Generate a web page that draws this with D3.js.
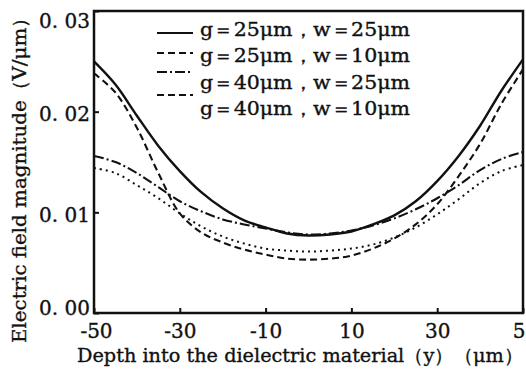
<html>
<head>
<script src="https://d3js.org/d3.v7.min.js"></script>
<style>
  body { margin:0; background:#fff; }
  text { font-family: "DejaVu Serif", "Liberation Serif", serif; fill:#111; stroke:#111; stroke-width:0.35px; }
</style>
</head>
<body>
<svg id="chart" width="526" height="373"></svg>
<script>
// depth positions (um) and field magnitude (V/um)
var depth   = [-50,-45,-40,-35,-30,-25,-20,-15,-10,-5,0,5,10,15,20,25,30,35,40,45,50];
var g25w25  = [.0250,.0227,.0196,.0166,.0141,.0120,.0104,.0092,.0085,.0079,.0077,.0078,.0081,.0088,.0097,.0111,.0131,.0156,.0186,.0221,.0252];
var g25w10  = [.0238,.0219,.0184,.0139,.0099,.0080,.0070,.0063,.0058,.0054,.0053,.0054,.0057,.0064,.0074,.0088,.0108,.0136,.0168,.0208,.0242];
var g40w25  = [.0156,.0150,.0139,.0125,.0111,.0101,.0093,.0088,.0084,.0080,.0078,.0079,.0082,.0087,.0094,.0103,.0114,.0127,.0142,.0153,.0160];
var g40w10  = [.0144,.0139,.0127,.0114,.0099,.0086,.0076,.0069,.0064,.0062,.0061,.0062,.0064,.0068,.0075,.0085,.0098,.0113,.0129,.0141,.0147];
var legendLabels = ["g＝25μm，w＝25μm","g＝25μm，w＝10μm","g＝40μm，w＝25μm","g＝40μm，w＝10μm"];
var xTicks = [-50,-30,-10,10,30,50];
var yTicks = [0,0.01,0.02,0.03];

var svg = d3.select("#chart");
var pl = 94, pr = 523, pt = 11, pb = 313;

var x = d3.scaleLinear().domain([-50,50]).range([pl,pr]);
var y = d3.scaleLinear().domain([0,0.03]).range([pb,pt]);

var series = [
  {vals:g25w25, dash:null,        w:2.4},
  {vals:g25w10, dash:"7,4",       w:2.1},
  {vals:g40w25, dash:"10,3,2,3",  w:2.1},
  {vals:g40w10, dash:"2,4",       w:2}
];
// the legend sample of the last row is drawn dashed in the original figure
var legendDash = [null,"7,4","10,3,2,3","7,4"];

var line = d3.line()
  .x(function(d){ return x(d[0]); })
  .y(function(d){ return y(d[1]); })
  .curve(d3.curveCatmullRom);

series.forEach(function(s){
  svg.append("path")
    .attr("d", line(depth.map(function(v,i){ return [v, s.vals[i]]; })))
    .attr("fill","none")
    .attr("stroke","#111")
    .attr("stroke-width", s.w)
    .attr("stroke-dasharray", s.dash);
});

// axes with inward ticks
var xAxis = svg.append("g").attr("transform","translate(0,"+pb+")")
  .call(d3.axisBottom(x).tickValues(xTicks).tickSize(-5).tickPadding(10).tickFormat(function(d){ return String(d); }));
var yAxis = svg.append("g").attr("transform","translate("+pl+",0)")
  .call(d3.axisLeft(y).tickValues(yTicks).tickSize(-5).tickPadding(4)
    .tickFormat(function(d){ return d.toFixed(2).replace(".", ". "); }));

[xAxis, yAxis].forEach(function(a){
  a.select(".domain").remove();
  a.selectAll(".tick line").attr("stroke","#111").attr("stroke-width",2);
  a.selectAll(".tick text").style("font-size","20px").attr("fill","#111");
});
xAxis.selectAll(".tick text").attr("dy","0.75em");
xAxis.selectAll(".tick").filter(function(d){ return d === -50 || d === 50; })
  .select("text").attr("dx", "2px");
yAxis.selectAll(".tick text").attr("dy", function(d){
  return d === 0.03 ? "0.8em" : d === 0 ? "0.05em" : "0.45em";
});

// frame
svg.append("rect")
  .attr("x",pl).attr("y",pt)
  .attr("width",pr-pl).attr("height",pb-pt)
  .attr("fill","none").attr("stroke","#111").attr("stroke-width",2.5);

// legend
var legendLineY = [33,53,72,95];
legendLabels.forEach(function(lbl,i){
  svg.append("line")
    .attr("x1",157).attr("x2",193)
    .attr("y1",legendLineY[i]).attr("y2",legendLineY[i])
    .attr("stroke","#111").attr("stroke-width",2)
    .attr("stroke-dasharray",legendDash[i]);
  svg.append("text")
    .attr("x",200).attr("y",36 + i*26.3)
    .attr("textLength",210).attr("lengthAdjust","spacingAndGlyphs")
    .style("font-size","18px")
    .text(lbl);
});

// axis titles
svg.append("text")
  .attr("x",77).attr("y",362)
  .attr("textLength",446).attr("lengthAdjust","spacingAndGlyphs")
  .style("font-size","19px")
  .text("Depth into the dielectric material（y）（μm）");

svg.append("text")
  .attr("transform","translate(26,343) rotate(-90)")
  .attr("textLength",335).attr("lengthAdjust","spacingAndGlyphs")
  .style("font-size","19px")
  .text("Electric field magnitude（V/μm）");
</script>
</body>
</html>
